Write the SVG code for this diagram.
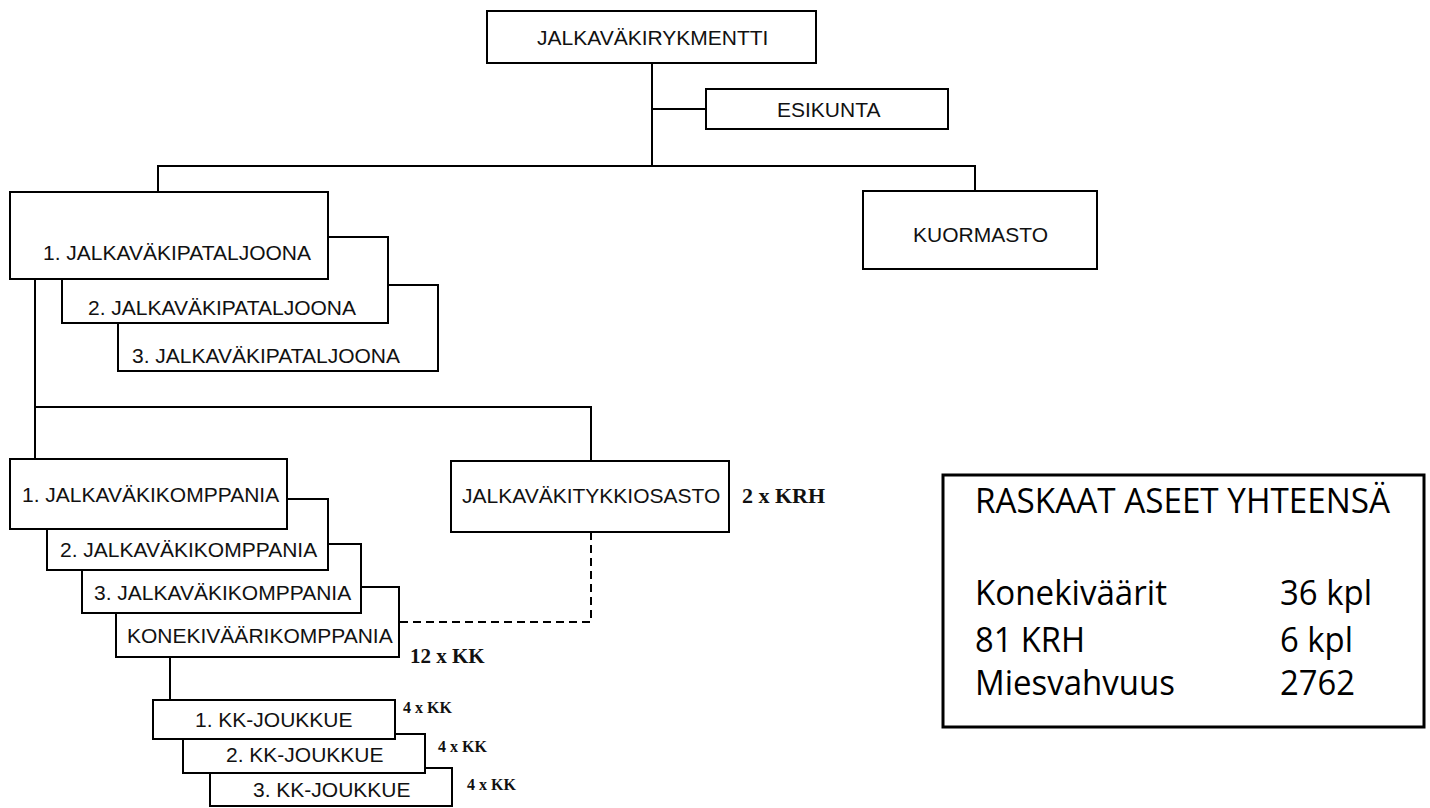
<svg xmlns="http://www.w3.org/2000/svg" width="1430" height="808" viewBox="0 0 1430 808">
  <style>
    .box { fill: #ffffff; stroke: #000000; stroke-width: 2; }
    .link { fill: none; stroke: #000000; stroke-width: 2; }
    .dash { fill: none; stroke: #000000; stroke-width: 2; stroke-dasharray: 8 5; }
    .lbl { font-family: "Liberation Sans", Arial, sans-serif; font-size: 21px; fill: #111111; }
    .note { font-family: "Liberation Serif", "Times New Roman", serif; font-weight: bold; fill: #111111; }
    .sum { font-family: "Open Sans", "Noto Sans", sans-serif; font-size: 35px; fill: #000000; }
  </style>
  <rect width="1430" height="808" fill="#ffffff"/>

  <!-- connectors -->
  <g id="connectors">
    <path class="link" d="M652 63 V166"/>
    <path class="link" d="M652 109 H706"/>
    <path class="link" d="M158 192 V166 H975 V191"/>
    <path class="link" d="M35 279 V459"/>
    <path class="link" d="M35 407 H591 V461"/>
    <path class="link" d="M170 657 V700"/>
    <path class="dash" d="M591 532 V622 H399"/>
  </g>

  <g id="rykmentti">
    <rect class="box" x="487" y="11" width="329" height="52"/>
    <text class="lbl" x="537" y="45">JALKAVÄKIRYKMENTTI</text>
  </g>

  <g id="esikunta">
    <rect class="box" x="706" y="89" width="242" height="40"/>
    <text class="lbl" x="777" y="117">ESIKUNTA</text>
  </g>

  <g id="kuormasto">
    <rect class="box" x="863" y="191" width="234" height="78"/>
    <text class="lbl" x="913" y="242">KUORMASTO</text>
  </g>

  <!-- battalions, back to front -->
  <g id="pataljoona-3">
    <rect class="box" x="118" y="285" width="320" height="86"/>
    <text class="lbl" x="132" y="363">3. JALKAVÄKIPATALJOONA</text>
  </g>
  <g id="pataljoona-2">
    <rect class="box" x="62" y="237" width="326" height="86"/>
    <text class="lbl" x="88" y="315">2. JALKAVÄKIPATALJOONA</text>
  </g>
  <g id="pataljoona-1">
    <rect class="box" x="10" y="192" width="318" height="87"/>
    <text class="lbl" x="43" y="260">1. JALKAVÄKIPATALJOONA</text>
  </g>

  <!-- companies, back to front -->
  <g id="kk-komppania">
    <rect class="box" x="116" y="587" width="283" height="70"/>
    <text class="lbl" x="127" y="643">KONEKIVÄÄRIKOMPPANIA</text>
    <text class="note" x="410" y="663" font-size="21">12 x KK</text>
  </g>
  <g id="komppania-3">
    <rect class="box" x="82" y="544" width="279" height="69"/>
    <text class="lbl" x="94" y="600">3. JALKAVÄKIKOMPPANIA</text>
  </g>
  <g id="komppania-2">
    <rect class="box" x="47" y="499" width="281" height="71"/>
    <text class="lbl" x="60" y="557">2. JALKAVÄKIKOMPPANIA</text>
  </g>
  <g id="komppania-1">
    <rect class="box" x="10" y="459" width="277" height="70"/>
    <text class="lbl" x="22" y="502">1. JALKAVÄKIKOMPPANIA</text>
  </g>

  <g id="tykkiosasto">
    <rect class="box" x="451" y="461" width="278" height="71"/>
    <text class="lbl" x="462" y="503">JALKAVÄKITYKKIOSASTO</text>
    <text class="note" x="742" y="503" font-size="22">2 x KRH</text>
  </g>

  <!-- machine-gun platoons, back to front -->
  <g id="joukkue-3">
    <rect class="box" x="210" y="768" width="242" height="38"/>
    <text class="lbl" x="253" y="797">3. KK-JOUKKUE</text>
    <text class="note" x="467" y="790" font-size="16">4 x KK</text>
  </g>
  <g id="joukkue-2">
    <rect class="box" x="183" y="734" width="242" height="39"/>
    <text class="lbl" x="226" y="762">2. KK-JOUKKUE</text>
    <text class="note" x="438" y="752" font-size="16">4 x KK</text>
  </g>
  <g id="joukkue-1">
    <rect class="box" x="153" y="700" width="242" height="39"/>
    <text class="lbl" x="195" y="727">1. KK-JOUKKUE</text>
    <text class="note" x="403" y="713" font-size="16">4 x KK</text>
  </g>

  <!-- totals panel -->
  <g id="yhteensa">
    <rect x="943" y="475" width="481" height="252" fill="#ffffff" stroke="#000000" stroke-width="3"/>
    <text class="sum" x="975" y="513" textLength="415" lengthAdjust="spacingAndGlyphs">RASKAAT ASEET YHTEENSÄ</text>
    <text class="sum" x="975" y="605" textLength="192" lengthAdjust="spacingAndGlyphs">Konekiväärit</text>
    <text class="sum" x="1280" y="605" textLength="92" lengthAdjust="spacingAndGlyphs">36 kpl</text>
    <text class="sum" x="975" y="652" textLength="110" lengthAdjust="spacingAndGlyphs">81 KRH</text>
    <text class="sum" x="1280" y="652" textLength="73" lengthAdjust="spacingAndGlyphs">6 kpl</text>
    <text class="sum" x="975" y="695" textLength="200" lengthAdjust="spacingAndGlyphs">Miesvahvuus</text>
    <text class="sum" x="1280" y="695" textLength="75" lengthAdjust="spacingAndGlyphs">2762</text>
  </g>
</svg>
